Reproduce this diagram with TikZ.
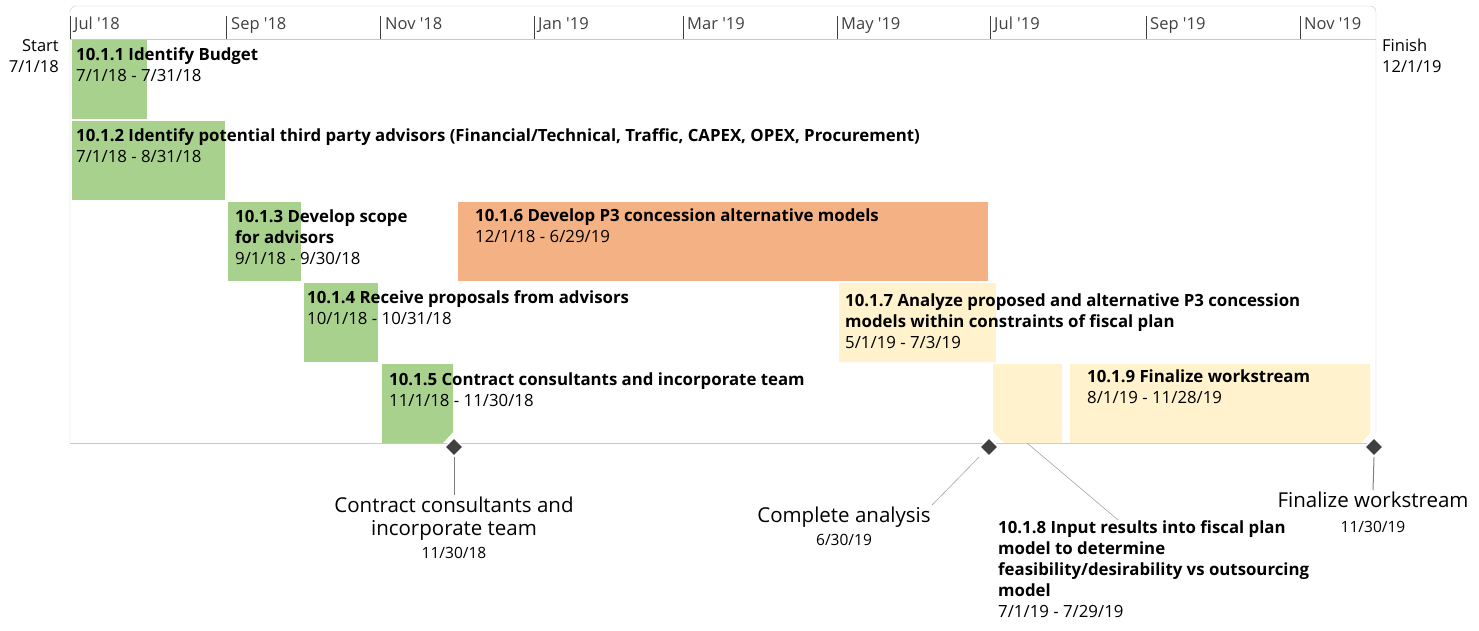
\documentclass[tikz,border=0pt]{standalone}
\usepackage{fontspec}
\setmainfont{Open Sans}
\usetikzlibrary{shapes.geometric}

\definecolor{barGreen}{HTML}{A9D18E}
\definecolor{barOrange}{HTML}{F4B183}
\definecolor{barYellow}{HTML}{FFF2CC}
\definecolor{frameGray}{HTML}{C9C9C9}
\definecolor{tickGray}{HTML}{404040}
\definecolor{leaderGray}{HTML}{7F7F7F}
\newcommand{\msdatefont}{\fontsize{15.5}{23}\selectfont}
\newcommand{\yr}[1]{\textquotesingle#1}

\begin{document}
\begin{tikzpicture}[x=1pt, y=-1pt,
  month/.style={anchor=base west, inner sep=0pt, text=tickGray, font=\fontsize{16.5}{20}\selectfont},
  task/.style={anchor=base west, inner sep=0pt, align=left, font=\fontsize{16.8}{21}\selectfont},
  endlabel/.style={inner sep=0pt, font=\fontsize{16.5}{21}\selectfont},
  milestone/.style={diamond, fill=tickGray, draw=white, line width=1.5pt, minimum size=19pt, inner sep=0pt},
  mslabel/.style={anchor=base, align=center, inner sep=1pt, font=\fontsize{20.5}{23}\selectfont},
  leader/.style={draw=leaderGray, line width=1pt},
  callout/.style={draw=leaderGray!70, line width=0.6pt}]
  \useasboundingbox (0,0) rectangle (1479,630);
  % frame
  \draw[frameGray, rounded corners=6pt] (70,443) -- (70,6) -- (1376,6) -- (1376,433);
  \draw[frameGray] (70,39) -- (1376,39);
  \draw[frameGray] (70,443) -- (1376,443);
  % month ticks
  \draw[tickGray] (70,16) -- (70,39); %jul18
  \draw[tickGray] (226,16) -- (226,39); %sep18
  \draw[tickGray] (380,16) -- (380,39); %nov18
  \draw[tickGray] (534,16) -- (534,39); %jan19
  \draw[tickGray] (683,16) -- (683,39); %mar19
  \draw[tickGray] (837,16) -- (837,39); %may19
  \draw[tickGray] (990,16) -- (990,39); %jul19
  \draw[tickGray] (1146,16) -- (1146,39); %sep19
  \draw[tickGray] (1300,16) -- (1300,39); %nov19
  \node[month] (m1) at (74,29) {Jul \yr{18}};
  \node[month] (m2) at (231,29) {Sep \yr{18}};
  \node[month] (m3) at (385,29) {Nov \yr{18}};
  \node[month] (m4) at (538,29) {Jan \yr{19}};
  \node[month] (m5) at (687,29) {Mar \yr{19}};
  \node[month] (m6) at (841,29) {May \yr{19}};
  \node[month] (m7) at (994,29) {Jul \yr{19}};
  \node[month] (m8) at (1150,29) {Sep \yr{19}};
  \node[month] (m9) at (1304,29) {Nov \yr{19}};
  \node[endlabel, anchor=base east, align=right] (start) at (59,72) {Start\\7/1/18};
  \node[endlabel, anchor=base west, align=left] (finish) at (1382,72) {Finish\\12/1/19};
  % bars
  \fill[barGreen] (72,40) rectangle (147,119); %111
  \fill[barGreen] (72,121) rectangle (225,200); %112
  \fill[barGreen] (228,202) rectangle (301,281); %113
  \fill[barGreen] (304,283) rectangle (378,362); %114
  \fill[barGreen] (382,364) -- (453,364) -- (453,432) -- (443,443) -- (382,443) -- cycle; %115
  \fill[barOrange] (458,202) rectangle (988,281); %116
  \fill[barYellow] (839,283) rectangle (996,362); %117
  \fill[barYellow] (993,364) -- (1062,364) -- (1062,443) -- (1004,443) -- (993,432) -- cycle; %118
  \fill[barYellow] (1070,364) -- (1370,364) -- (1370,433) -- (1361,443) -- (1070,443) -- cycle; %119
  \coordinate (b8) at (1027,443);
  % task texts (placed on the baseline of their last line)
  \node[task] (t1) at (76,81) {\textbf{10.1.1 Identify Budget}\\7/1/18 - 7/31/18};
  \node[task] (t2) at (76,162) {\textbf{10.1.2 Identify potential third party advisors (Financial/Technical, Traffic, CAPEX, OPEX, Procurement)}\\7/1/18 - 8/31/18};
  \node[task] (t3) at (235,264) {\textbf{10.1.3 Develop scope}\\\textbf{for advisors}\\9/1/18 - 9/30/18};
  \node[task] (t4) at (307,324) {\textbf{10.1.4 Receive proposals from advisors}\\10/1/18 - 10/31/18};
  \node[task] (t5) at (389,406) {\textbf{10.1.5 Contract consultants and incorporate team}\\11/1/18 - 11/30/18};
  \node[task] (t6) at (475,242) {\textbf{10.1.6 Develop P3 concession alternative models}\\12/1/18 - 6/29/19};
  \node[task] (t7) at (845,348) {\textbf{10.1.7 Analyze proposed and alternative P3 concession}\\\textbf{models within constraints of fiscal plan}\\5/1/19 - 7/3/19};
  \node[task] (t8) at (998,617) {\textbf{10.1.8 Input results into fiscal plan}\\\textbf{model to determine}\\\textbf{feasibility/desirability vs outsourcing}\\\textbf{model}\\7/1/19 - 7/29/19};
  \node[task] (t9) at (1087,403) {\textbf{10.1.9 Finalize workstream}\\8/1/19 - 11/28/19};
  % milestones
  \node[milestone] (ms1) at (454,447) {};
  \node[milestone] (ms2) at (989,447) {};
  \node[milestone] (ms3) at (1374,447) {};
  \node[mslabel] (l1) at (454,558) {Contract consultants and\\incorporate team\\{\msdatefont 11/30/18}};
  \node[mslabel] (l2) at (844,545) {Complete analysis\\{\msdatefont 6/30/19}};
  \node[mslabel] (l3) at (1373,532) {Finalize workstream\\[2pt]{\msdatefont 11/30/19}};
  \draw[leader] (ms1.south) -- (l1.north);
  \draw[callout, shorten <=7pt] (ms2.south west) -- (l2.north east);
  \draw[leader] (ms3.south) -- (l3.north);
  \draw[callout] (b8) -- ([xshift=120pt]t8.north west);
\end{tikzpicture}
\end{document}
